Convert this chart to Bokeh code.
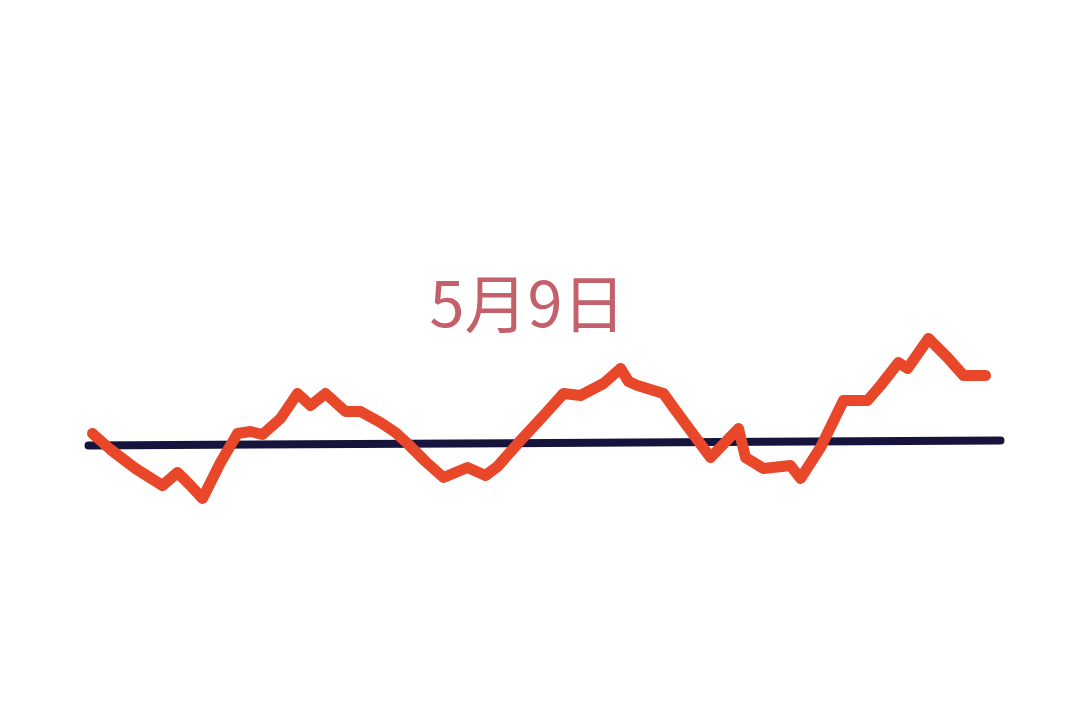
from bokeh.plotting import figure
from bokeh.models import Range1d
from bokeh.core.properties import value
from bokeh.embed import file_html
from bokeh.resources import INLINE

# Data (positions along the day, level relative to baseline)
title_text = "5月9日"
curve_x = [92, 110, 135, 162, 177, 190, 202, 220, 237, 250, 262, 280, 297, 310, 325, 345, 360, 380,
           395, 407, 425, 443, 467, 485, 497, 520, 545, 563, 580, 603, 620, 628, 637, 663, 673, 690,
           710, 738, 745, 763, 790, 800, 820, 843, 867, 880, 898, 907, 928, 947, 963, 985]
curve_py = [433, 449, 468, 485, 472, 485, 498, 462, 433, 431, 434, 418, 393, 405, 393, 411, 411, 422,
            432, 443, 461, 477, 467, 475, 466, 440, 413, 393, 395, 383, 368, 381, 385, 393, 407, 430,
            457, 428, 457, 468, 465, 478, 447, 400, 400, 385, 362, 368, 338, 357, 375, 375]
base_x = [88, 1000]
base_py = [445, 440]

BASE = 442
curve_y = [BASE - v for v in curve_py]
base_y = [BASE - v for v in base_py]

W, H = 1064, 697
p = figure(width=W, height=H, output_backend="svg", toolbar_location=None,
           x_range=Range1d(0, W), y_range=Range1d(BASE - H, BASE),
           min_border=0, background_fill_color="white", border_fill_color="white")
p.axis.visible = False
p.grid.visible = False
p.outline_line_color = None

p.line(base_x, base_y, line_color="#16143C", line_width=8, line_cap="round")
p.line(curve_x, curve_y, line_color="#E9472A", line_width=11, line_cap="round", line_join="round")

p.text(x=[527], y=[BASE - 299], text=[title_text], text_align="center", text_baseline="middle",
       text_font=value("Noto Sans CJK SC"), text_font_size="63px", text_color="#C4606C")

open("out.html", "w").write(file_html(p, INLINE))
